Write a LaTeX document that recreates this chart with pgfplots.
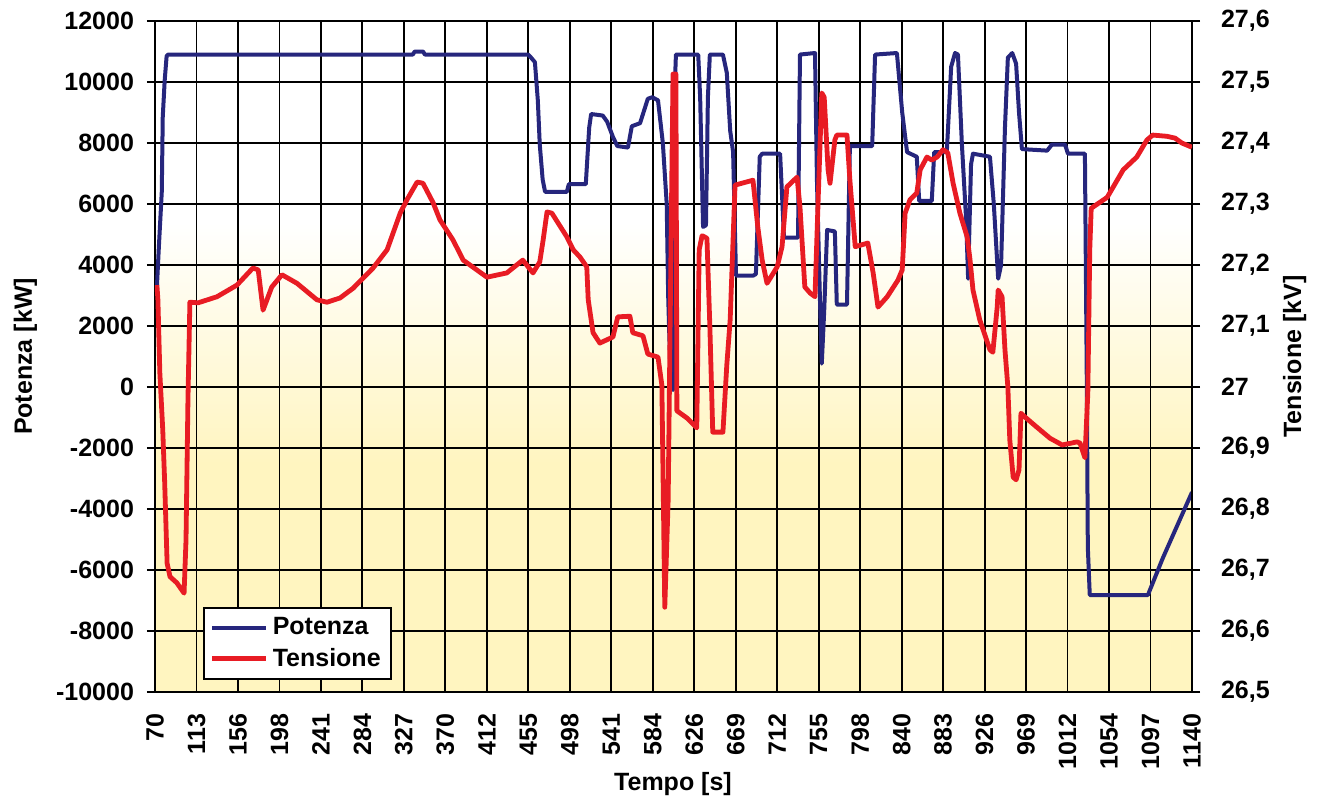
\documentclass[border=0pt]{standalone}
\usepackage{fontspec}
\setmainfont{Liberation Sans}
\usepackage{pgfplots}
\usepackage{pgfplotstable}
\pgfplotsset{compat=1.18}
\definecolor{potblue}{RGB}{38,38,125}
\definecolor{tenred}{RGB}{232,28,36}
\definecolor{bgyel}{RGB}{255,245,192}
\pgfdeclareverticalshading{bgshade}{100bp}{color(0bp)=(bgyel); color(25bp)=(bgyel); color(42bp)=(bgyel); color(60bp)=(white); color(75bp)=(white); color(100bp)=(white)}

\pgfplotstableread{
t P
72 3300
74 4600
77 6400
78 8850
80 10050
82 10850
83.5 10900
336 10900
338 11000
346.5 11000
348.5 10900
455 10900
458 10800
462 10650
465 9400
467 7950
470 6800
472.5 6400
495 6400
497 6650
514.5 6650
518 8500
520 8950
532 8900
536.5 8700
542.5 8200
547 7900
558 7850
562 8550
570.5 8650
578.5 9450
583 9500
589 9400
594 8000
598 6000
599.5 3000
601.5 800
604.5 -100
606.5 10000
607.5 10900
630.5 10900
632.5 9500
635.5 5250
638.5 5300
640.5 9500
642.5 10900
656 10900
660 10300
663.5 8400
666.5 7700
669.5 3650
687 3650
690 3700
694 7550
696.5 7650
715 7650
719 4900
733.5 4900
735.5 10900
751 10950
753 6800
756 3000
758 770
760.5 2500
763.5 5150
771.5 5100
773.5 2700
784 2700
787 7900
810 7900
813 10900
835.5 10950
841 9000
846 7700
856 7550
858.5 6100
871.5 6100
874 7700
887 7700
891.5 10500
895.5 10950
898.5 10900
902.5 8000
907 5450
909 3550
912 7300
914 7650
931.5 7550
935.5 6000
940 3550
943 4000
947 8500
950 10800
954.5 10950
958.5 10600
961.5 9000
964.5 7800
990.5 7750
995.5 7950
1009 7950
1012 7650
1029.5 7650
1031.5 0
1032.5 -5250
1034.5 -6820
1094.5 -6820
1110 -5600
1140 -3450
}\potenza

\pgfplotstableread{
t V
72 27.167
73 27.143
75 27.023
78 26.930
80 26.843
82.5 26.711
85.5 26.689
92.5 26.679
100 26.662
102 26.749
104 26.979
106 27.139
114.5 27.138
134 27.148
154.5 27.167
171 27.195
176.5 27.192
181.5 27.126
190.5 27.164
201 27.184
216.5 27.170
237 27.143
247.5 27.139
261 27.146
274.5 27.162
295 27.195
309.5 27.225
323 27.285
330 27.307
340.5 27.336
346.5 27.334
357 27.302
364 27.274
377.5 27.241
388 27.208
412.5 27.180
433 27.187
449.5 27.208
460 27.187
467 27.205
470.5 27.241
474.5 27.287
479.5 27.285
495 27.246
501.5 27.225
508.5 27.213
515.5 27.197
517 27.143
522 27.089
529 27.072
542.5 27.082
547.5 27.115
560 27.116
563 27.089
573.5 27.084
578.5 27.054
589 27.049
593 27.003
596 26.639
599.5 26.815
601.5 27.100
604.5 27.513
607.5 27.513
608.5 26.961
619 26.949
629 26.933
631.5 27.225
634.5 27.248
639.5 27.244
642.5 27.100
645.5 26.926
656 26.926
660 27.036
663.5 27.111
668.5 27.331
687 27.339
692 27.262
696.5 27.208
701.5 27.170
712 27.197
717 27.230
722 27.328
732.5 27.344
735.5 27.295
740.5 27.164
746 27.154
751 27.148
754 27.295
758 27.482
760.5 27.475
764.5 27.356
766.5 27.334
771.5 27.405
773.5 27.413
784 27.413
787 27.339
792.5 27.230
805.5 27.236
811 27.187
816 27.131
825.5 27.148
836.5 27.175
841 27.192
844 27.285
849 27.307
856 27.318
859.5 27.356
866.5 27.377
871.5 27.372
877 27.377
883 27.389
888 27.384
893.5 27.334
900.5 27.285
908 27.246
911 27.208
914 27.159
921 27.110
931.5 27.061
934.5 27.057
939 27.131
940 27.159
944 27.148
947 27.061
950 27.000
952 26.913
955.5 26.852
958.5 26.848
961.5 26.864
963.5 26.957
967.5 26.951
980 26.934
993.5 26.916
1006 26.905
1021.5 26.910
1024.5 26.908
1029.5 26.884
1032.5 26.990
1034.5 27.225
1036 27.293
1052.5 27.311
1069 27.356
1083 27.377
1093.5 27.405
1099.5 27.413
1114 27.411
1122.5 27.408
1129.5 27.400
1140 27.393
}\tensione

\newcommand{\tfont}{\bfseries\fontsize{12.5}{14}\selectfont}

\begin{document}
\begin{tikzpicture}
\useasboundingbox (-77.5pt,-53.5pt) rectangle (581pt,346pt);
\begin{axis}[
  scale only axis, width=518.5pt, height=335.5pt,
  xmin=70, xmax=1140, ymin=-10000, ymax=12000,
  scaled ticks=false,
  xtick={70,112.8,155.6,198.4,241.2,284,326.8,369.6,412.4,455.2,498,540.8,583.6,626.4,669.2,712,754.8,797.6,840.4,883.2,926,968.8,1011.6,1054.4,1097.2,1140},
  xticklabels={70,113,156,198,241,284,327,370,412,455,498,541,584,626,669,712,755,798,840,883,926,969,1012,1054,1097,1140},
  ytick={-10000,-8000,-6000,-4000,-2000,0,2000,4000,6000,8000,10000,12000},
  yticklabels={-10000,-8000,-6000,-4000,-2000,0,2000,4000,6000,8000,10000,12000},
  ytick pos=left,
  grid=major, major grid style={black, line width=0.9pt},
  axis line style={black, line width=0.9pt},
  axis background/.style={shading=bgshade},
  tick label style={font=\tfont},
  xticklabel style={rotate=90, anchor=east, xshift=-3.5pt},
  yticklabel style={xshift=-3pt},
  xtick style={draw=none},
  ytick style={black, line width=0.9pt},
  tick align=outside, major tick length=4pt,
  ylabel={Potenza [kW]},
  ylabel style={font=\tfont, at={(axis description cs:-0.125,0.5)}, anchor=center},
  xlabel={Tempo [s]},
  xlabel style={font=\tfont, at={(axis description cs:0.4995,-0.137)}, anchor=center},
]
\addplot[potblue, line width=2pt, line join=round] table[x=t, y=P] {\potenza};
\end{axis}
\begin{axis}[
  scale only axis, width=518.5pt, height=335.5pt,
  xmin=70, xmax=1140, ymin=26.5, ymax=27.6,
  scaled ticks=false,
  axis x line=none, axis y line*=right,
  ytick={26.5,26.6,26.7,26.8,26.9,27,27.1,27.2,27.3,27.4,27.5,27.6},
  yticklabels={{26,5},{26,6},{26,7},{26,8},{26,9},{27},{27,1},{27,2},{27,3},{27,4},{27,5},{27,6}},
  axis line style={black, line width=0.9pt},
  ytick style={black, line width=0.9pt},
  tick align=outside, major tick length=4pt,
  tick label style={font=\tfont},
  yticklabel style={xshift=7pt},
  ylabel={Tensione [kV]},
  ylabel style={font=\tfont, at={(axis description cs:1.099,0.5)}, anchor=center},
  legend style={at={(axis description cs:0.0463,0.0179)}, anchor=south west,
    draw=black, line width=0.9pt, fill=white, font=\tfont, row sep=1pt,
    inner sep=3pt, cells={anchor=west}},
  legend image code/.code={\draw[#1] (0cm,0cm) -- (0.95cm,0cm);},
]
\addlegendimage{potblue, line width=2pt}
\addlegendentry{Potenza}
\addplot[tenred, line width=2.4pt, line join=round] table[x=t, y=V] {\tensione};
\addlegendentry{Tensione}
\end{axis}
\end{tikzpicture}
\end{document}
